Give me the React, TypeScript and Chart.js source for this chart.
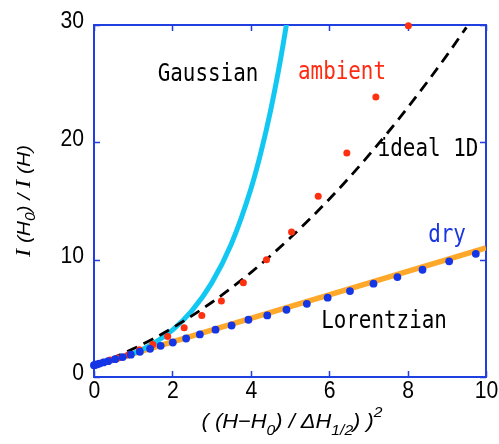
import React, { useEffect, useRef } from "react";
import { Chart, registerables } from "chart.js";

Chart.register(...registerables);

// ---- data ----
const xTicks = [0, 2, 4, 6, 8, 10];
const yTicks = [0, 10, 20, 30];

const lorentzX = [0, 10];
const lorentzY = [1, 11];

const gaussX = [0, 0.5, 1, 1.5, 2, 2.5, 3, 3.5, 4, 4.25, 4.5, 4.75, 4.9, 5.0];
const gaussY = [1, 1.41, 2, 2.83, 4, 5.66, 8, 11.31, 16, 19.03, 22.63, 26.91, 29.86, 32.0];

const idealX = [0, 0.5, 1, 1.5, 2, 3, 4, 5, 6, 7, 8, 9, 9.5];
const idealY = [1, 1.65, 2.4, 3.24, 4.18, 6.35, 8.9, 11.84, 15.15, 18.86, 22.95, 27.41, 29.8];

const ambientX = [0.0, 0.04, 0.12, 0.25, 0.41, 0.62, 0.87, 1.16, 1.5, 1.88, 2.3, 2.75, 3.25, 3.81, 4.4, 5.04, 5.72, 6.45, 7.19, 8.02];
const ambientY = [1.0, 1.04, 1.12, 1.26, 1.45, 1.62, 1.88, 2.32, 2.77, 3.46, 4.2, 5.25, 6.47, 8.04, 10.0, 12.36, 15.4, 19.1, 23.87, 29.93];

const dryX = [0.0, 0.02, 0.07, 0.14, 0.24, 0.36, 0.54, 0.73, 0.94, 1.17, 1.43, 1.7, 2.01, 2.35, 2.7, 3.1, 3.51, 3.94, 4.42, 4.91, 5.43, 5.96, 6.53, 7.13, 7.74, 8.38, 9.06, 9.74];
const dryY = [1.0, 1.02, 1.07, 1.14, 1.24, 1.35, 1.52, 1.7, 1.9, 2.15, 2.4, 2.66, 2.94, 3.28, 3.63, 4.03, 4.39, 4.88, 5.25, 5.73, 6.24, 6.76, 7.32, 7.95, 8.52, 9.14, 9.86, 10.5];

const pts = (xs: number[], ys: number[]) => xs.map((x, i) => ({ x, y: ys[i] }));

const AXIS_BLUE = "#1f3fe0";
const MONO = "'DejaVu Sans Mono'";

type Seg = { t: string; font: string; dy?: number };

function drawScaledText(
  ctx: CanvasRenderingContext2D,
  text: string,
  x: number,
  y: number,
  font: string,
  color: string,
  sx: number,
  align: "left" | "center" | "right"
) {
  ctx.save();
  ctx.font = font;
  ctx.fillStyle = color;
  ctx.textBaseline = "middle";
  const w = ctx.measureText(text).width * sx;
  let left = x;
  if (align === "center") left = x - w / 2;
  if (align === "right") left = x - w;
  ctx.translate(left, y);
  ctx.scale(sx, 1);
  ctx.textAlign = "left";
  ctx.fillText(text, 0, 0);
  ctx.restore();
}

function drawRich(ctx: CanvasRenderingContext2D, segs: Seg[], targetW: number, color: string) {
  ctx.save();
  ctx.fillStyle = color;
  ctx.textBaseline = "alphabetic";
  let total = 0;
  const widths = segs.map((s) => {
    ctx.font = s.font;
    const w = ctx.measureText(s.t).width;
    total += w;
    return w;
  });
  const sx = targetW / total;
  ctx.scale(sx, 1);
  let cx = -total / 2;
  segs.forEach((s, i) => {
    ctx.font = s.font;
    ctx.fillText(s.t, cx, s.dy || 0);
    cx += widths[i];
  });
  ctx.restore();
}

const decorPlugin = {
  id: "decor",
  beforeDatasetsDraw(chart: any) {
    const { ctx, chartArea: a, scales } = chart;
    const xs = scales.x;
    const ys = scales.y;
    ctx.save();
    ctx.strokeStyle = AXIS_BLUE;
    ctx.lineWidth = 2;
    ctx.strokeRect(a.left, a.top, a.right - a.left, a.bottom - a.top);
    ctx.lineWidth = 1.5;
    const tl = 6;
    ctx.beginPath();
    xTicks.forEach((v) => {
      const px = Math.round(xs.getPixelForValue(v)) + 0.5;
      ctx.moveTo(px, a.bottom);
      ctx.lineTo(px, a.bottom - tl);
      ctx.moveTo(px, a.top);
      ctx.lineTo(px, a.top + tl);
    });
    yTicks.forEach((v) => {
      const py = Math.round(ys.getPixelForValue(v)) + 0.5;
      ctx.moveTo(a.left, py);
      ctx.lineTo(a.left + tl, py);
      ctx.moveTo(a.right, py);
      ctx.lineTo(a.right - tl, py);
    });
    ctx.stroke();
    ctx.restore();

    // tick labels
    const tickFont = "23px 'Liberation Sans'";
    xTicks.forEach((v) => {
      drawScaledText(ctx, String(v), xs.getPixelForValue(v) + 0.5, a.bottom + 15, tickFont, "#000", 0.92, "center");
    });
    yTicks.forEach((v) => {
      drawScaledText(ctx, String(v), a.left - 10, ys.getPixelForValue(v) - 3, tickFont, "#000", 0.92, "right");
    });

    // annotations
    const annFont = `24px ${MONO}`;
    drawScaledText(ctx, "Gaussian", 208, 75, annFont, "#000", 0.87, "center");
    drawScaledText(ctx, "ambient", 342, 73, annFont, "#ff2a10", 0.87, "center");
    drawScaledText(ctx, "ideal 1D", 428, 150, annFont, "#000", 0.87, "center");
    drawScaledText(ctx, "dry", 447, 236, annFont, "#1a36e0", 0.87, "center");
    drawScaledText(ctx, "Lorentzian", 384, 322, annFont, "#000", 0.87, "center");

    // x axis title
    const it = "italic 21px 'Liberation Sans'";
    const itS = "italic 15px 'Liberation Sans'";
    ctx.save();
    ctx.translate(292, 428);
    drawRich(
      ctx,
      [
        { t: "( (H\u2212H", font: it },
        { t: "0", font: itS, dy: 7 },
        { t: ") / \u0394H", font: it },
        { t: "1/2", font: itS, dy: 7 },
        { t: ") )", font: it },
        { t: "2", font: itS, dy: -11 },
      ],
      181,
      "#000"
    );
    ctx.restore();

    // y axis title
    const iSerif = "italic 22px 'Liberation Serif'";
    const iSans = "italic 19px 'Liberation Sans'";
    const iSub = "italic 14px 'Liberation Sans'";
    ctx.save();
    ctx.translate(30, 201);
    ctx.rotate(-Math.PI / 2);
    drawRich(
      ctx,
      [
        { t: "I", font: iSerif },
        { t: " (H", font: iSans },
        { t: "0", font: iSub, dy: 5 },
        { t: ") / ", font: iSans },
        { t: "I", font: iSerif },
        { t: " (H)", font: iSans },
      ],
      112,
      "#000"
    );
    ctx.restore();
  },
};

export default function App() {
  const ref = useRef<HTMLCanvasElement | null>(null);
  useEffect(() => {
    document.body.style.margin = "0";
    if (!ref.current) return;
    const chart = new Chart(ref.current, {
      type: "scatter",
      data: {
        datasets: [
          {
            label: "dry",
            data: pts(dryX, dryY),
            showLine: false,
            pointRadius: 3.9,
            pointBackgroundColor: "#1436e6",
            pointBorderWidth: 0,
            order: 0,
            clip: 10,
          } as any,
          {
            label: "ambient",
            data: pts(ambientX, ambientY),
            showLine: false,
            pointRadius: 3.5,
            pointBackgroundColor: "#ff3010",
            pointBorderWidth: 0,
            order: 1,
            clip: 10,
          },
          {
            label: "ideal 1D",
            data: pts(idealX, idealY),
            showLine: true,
            borderColor: "#000",
            borderWidth: 2.8,
            borderDash: [11, 7],
            pointRadius: 0,
            cubicInterpolationMode: "monotone",
            order: 2,
          },
          {
            label: "Gaussian",
            data: pts(gaussX, gaussY),
            showLine: true,
            borderColor: "#12c8f2",
            borderWidth: 5,
            pointRadius: 0,
            cubicInterpolationMode: "monotone",
            order: 3,
          },
          {
            label: "Lorentzian",
            data: pts(lorentzX, lorentzY),
            showLine: true,
            borderColor: "#ffa82a",
            borderWidth: 5.5,
            pointRadius: 0,
            order: 4,
          },
        ],
      },
      options: {
        animation: false,
        responsive: false,
        events: [],
        layout: { padding: { left: 94, right: 13, top: 25, bottom: 67 } },
        plugins: { legend: { display: false }, tooltip: { enabled: false } },
        scales: {
          x: { type: "linear", min: 0, max: 10, display: false },
          y: { type: "linear", min: 0, max: 30, display: false },
        },
      },
      plugins: [decorPlugin],
    });
    return () => chart.destroy();
  }, []);
  return (
    <div style={{ width: 499, height: 444, background: "#fff" }}>
      <canvas ref={ref} width={499} height={444} />
    </div>
  );
}
